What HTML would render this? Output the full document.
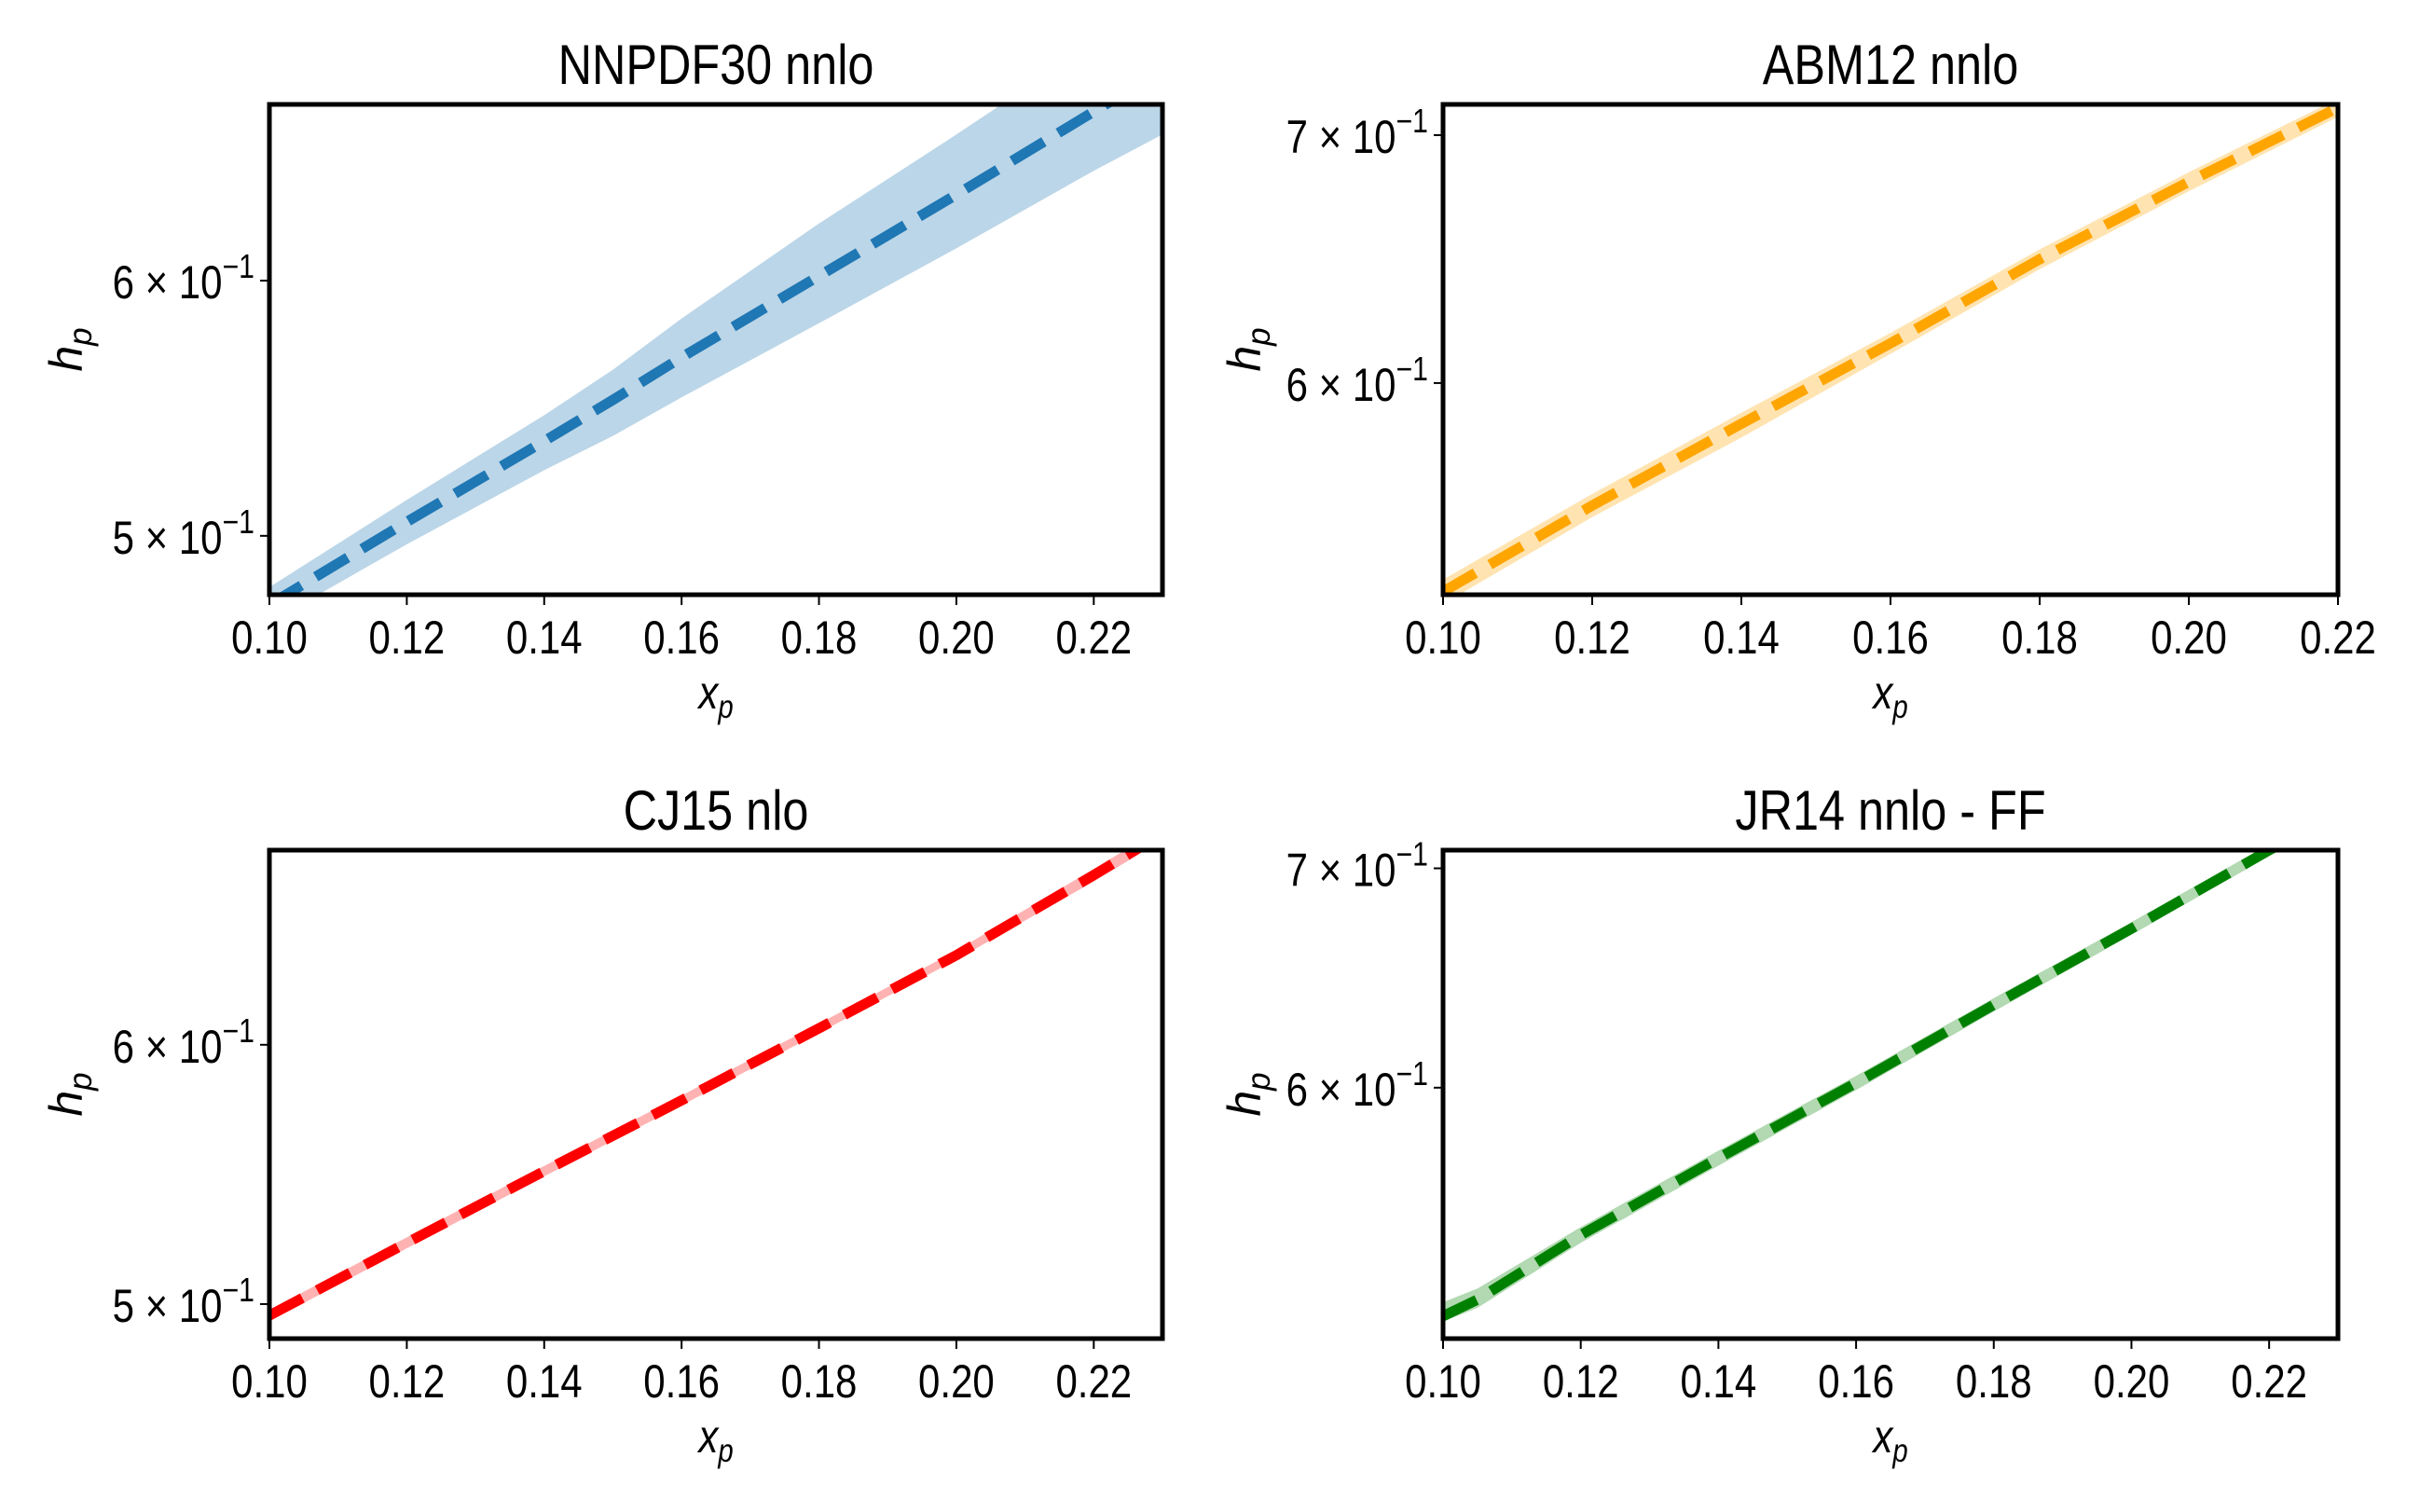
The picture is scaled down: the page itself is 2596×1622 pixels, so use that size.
<!DOCTYPE html>
<html><head><meta charset="utf-8"><style>
html,body{margin:0;padding:0;background:#fff}
svg{display:block}
text{font-family:"Liberation Sans",sans-serif;fill:#000}
</style></head><body>
<svg id="fig" width="2596" height="1622" viewBox="0 0 2596 1622" xmlns="http://www.w3.org/2000/svg"></svg>
<script>
// ---- data ----
const nnpdfX = [0.10,0.12,0.14,0.15,0.16,0.18,0.20,0.22,0.23];
const nnpdfCenter = [0.476,0.505,0.535,0.551,0.568,0.602,0.638,0.677,0.697];
const nnpdfLower = [0.470,0.497,0.524,0.537,0.552,0.582,0.614,0.649,0.666];
const nnpdfUpper = [0.482,0.513,0.545,0.563,0.584,0.625,0.666,0.711,0.733];

const abmX = [0.10,0.12,0.14,0.16,0.18,0.20,0.22];
const abmCenter = [0.527,0.556,0.585,0.615,0.648,0.680,0.712];
const abmLower = [0.523,0.552,0.580,0.611,0.644,0.676,0.708];
const abmUpper = [0.531,0.560,0.589,0.619,0.652,0.684,0.716];

const cjX = [0.10,0.12,0.14,0.16,0.18,0.20,0.22,0.23];
const cjCenter = [0.496,0.522,0.549,0.577,0.607,0.639,0.676,0.696];
const cjLower = [0.494,0.520,0.547,0.575,0.605,0.637,0.673,0.693];
const cjUpper = [0.498,0.524,0.551,0.579,0.609,0.641,0.679,0.699];

const jrX = [0.10,0.105,0.12,0.14,0.16,0.18,0.20,0.22,0.23];
const jrCenter = [0.511,0.517,0.541,0.571,0.602,0.636,0.671,0.709,0.728];
const jrLower = [0.509,0.514,0.538,0.568,0.599,0.633,0.668,0.706,0.725];
const jrUpper = [0.516,0.521,0.544,0.574,0.605,0.639,0.674,0.712,0.731];

const xTicks = [0.10,0.12,0.14,0.16,0.18,0.20,0.22];
const xTickLabels = ["0.10","0.12","0.14","0.16","0.18","0.20","0.22"];

const panels = [
 {name:"nnpdf30", title:"NNPDF30 nnlo", L:289,R:1247,T:112,B:638, xmin:0.10,xmax:0.23, ymin:0.4794,ymax:0.6805,
  yt:[0.5,0.6], ytl:["5","6"], color:"#1f77b4", x:nnpdfX, c:nnpdfCenter, lo:nnpdfLower, hi:nnpdfUpper, ylabX:70},
 {name:"abm12", title:"ABM12 nnlo", L:1548,R:2508,T:112,B:638, xmin:0.10,xmax:0.22, ymin:0.526,ymax:0.7135,
  yt:[0.6,0.7], ytl:["6","7"], color:"#ffa500", x:abmX, c:abmCenter, lo:abmLower, hi:abmUpper, ylabX:1334},
 {name:"cj15", title:"CJ15 nlo", L:289,R:1247,T:912,B:1436, xmin:0.10,xmax:0.23, ymin:0.488,ymax:0.688,
  yt:[0.5,0.6], ytl:["5","6"], color:"#ff0000", x:cjX, c:cjCenter, lo:cjLower, hi:cjUpper, ylabX:70},
 {name:"jr14", title:"JR14 nnlo - FF", L:1548,R:2508,T:912,B:1436, xmin:0.10,xmax:0.23, ymin:0.503,ymax:0.709,
  yt:[0.6,0.7], ytl:["6","7"], color:"#008000", x:jrX, c:jrCenter, lo:jrLower, hi:jrUpper, ylabX:1334}
];

const NS="http://www.w3.org/2000/svg";
const svg=document.getElementById('fig');
function mk(tag,parent,attrs){const e=document.createElementNS(NS,tag);for(const k in attrs)e.setAttribute(k,attrs[k]);parent.appendChild(e);return e;}

panels.forEach((p,i)=>{
  const g=mk('g',svg,{});
  
  
  const sx=v=>p.L+(v-p.xmin)/(p.xmax-p.xmin)*(p.R-p.L);
  const sy=v=>p.B-(Math.log(v)-Math.log(p.ymin))/(Math.log(p.ymax)-Math.log(p.ymin))*(p.B-p.T);
  const cid='clip'+i;
  const cp=mk('clipPath',g,{id:cid});
  mk('rect',cp,{x:p.L,y:p.T,width:p.R-p.L,height:p.B-p.T});
  let d='';
  p.x.forEach((xv,j)=>{d+=(j?'L':'M')+sx(xv).toFixed(1)+','+sy(p.hi[j]).toFixed(1);});
  for(let j=p.x.length-1;j>=0;j--) d+='L'+sx(p.x[j]).toFixed(1)+','+sy(p.lo[j]).toFixed(1);
  const band=mk('path',g,{d:d+'Z',fill:p.color,'fill-opacity':0.3,stroke:'none','clip-path':'url(#'+cid+')'});
  
  
  let dl='';
  p.x.forEach((xv,j)=>{dl+=(j?'L':'M')+sx(xv).toFixed(1)+','+sy(p.c[j]).toFixed(1);});
  const line=mk('path',g,{d:dl,fill:'none',stroke:p.color,'stroke-width':11,'stroke-dasharray':'40 18','clip-path':'url(#'+cid+')'});
  
  
  const fr=mk('rect',g,{x:p.L,y:p.T,width:p.R-p.L,height:p.B-p.T,fill:'none',stroke:'#000','stroke-width':5});
  
  
  xTicks.forEach((t,j)=>{
    if(t>p.xmax+1e-9) return;
    const x=sx(t);
    mk('line',g,{x1:x,y1:p.B,x2:x,y2:p.B+11,stroke:'#000','stroke-width':2});
    const tx=mk('text',g,{'font-size':50,'text-anchor':'middle',transform:'translate('+x+','+(p.B+63)+') scale(0.84,1)'});
    tx.textContent=xTickLabels[j];
    
    
  });
  p.yt.forEach((t,j)=>{
    const y=sy(t);
    mk('line',g,{x1:p.L-10,y1:y,x2:p.L,y2:y,stroke:'#000','stroke-width':2});
    const tx=mk('text',g,{'font-size':50,'text-anchor':'end',transform:'translate('+(p.L-16)+','+(y+19)+') scale(0.84,1)'});
    tx.innerHTML=p.ytl[j]+' × 10<tspan font-size="36" dy="-22">−1</tspan>';
    
    
  });
  const title=mk('text',g,{'font-size':60,'text-anchor':'middle',transform:'translate('+((p.L+p.R)/2)+','+(p.T-22)+') scale(0.84,1)'});
  title.textContent=p.title;
  
  
  const xl=mk('text',g,{'font-size':50,'font-style':'italic','text-anchor':'middle',transform:'translate('+((p.L+p.R)/2)+','+(p.B+122)+') scale(0.84,1)'});
  xl.innerHTML='x<tspan font-size="35" dy="10">p</tspan>';
  
  
  const yl=mk('text',g,{'font-size':50,'font-style':'italic','text-anchor':'middle',transform:'translate('+(p.ylabX+18)+','+((p.T+p.B)/2)+') rotate(-90)'});
  yl.innerHTML='h<tspan font-size="35" dy="10">p</tspan>';
  
  
});
</script>
</body></html>
